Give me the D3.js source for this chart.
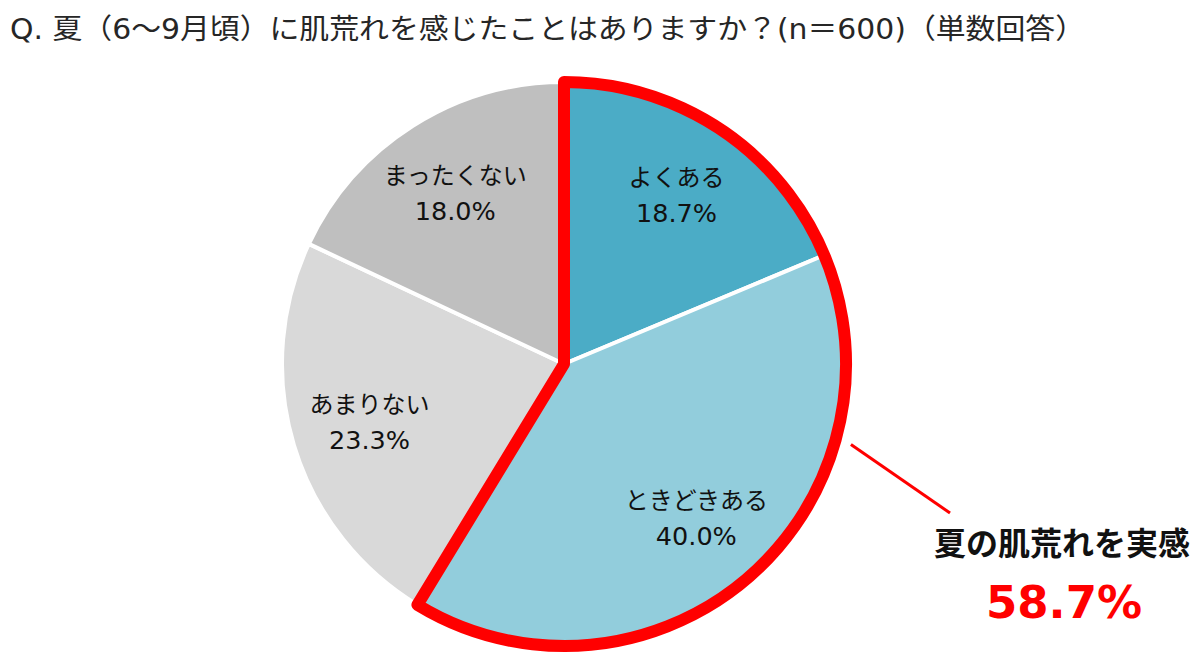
<!DOCTYPE html>
<html><head><meta charset="utf-8">
<script src="https://cdn.jsdelivr.net/npm/d3@7/dist/d3.min.js"></script>
<style>body{margin:0;background:#fff;} text{font-family:"DejaVu Sans","Noto Sans CJK JP",sans-serif;}</style>
</head><body>
<svg id="c" width="1200" height="656"></svg>
<script>
const titleText = "Q. 夏（6～9月頃）に肌荒れを感じたことはありますか？(n＝600)（単数回答）";
const categories = ["よくある", "ときどきある", "あまりない", "まったくない"];
const values = [18.7, 40.0, 23.3, 18.0];
const highlighted = [true, true, false, false];
const calloutLabel = "夏の肌荒れを実感";

const svg = d3.select("#c");
const cx = 564, cy = 364, R = 282;
const color = d3.scaleOrdinal().domain(categories).range(["#4BACC6", "#92CDDC", "#D9D9D9", "#BFBFBF"]);

svg.append("text").attr("x", 10).attr("y", 39).attr("font-size", 28).attr("fill", "#262626")
  .attr("textLength", 1075).attr("lengthAdjust", "spacingAndGlyphs").text(titleText);

const pie = d3.pie().sort(null).value(d => d.v);
const data = categories.map((c, i) => ({c, v: values[i], h: highlighted[i]}));
const arcs = pie(data);
const arc = d3.arc().innerRadius(0).outerRadius(R);
const labelArc = d3.arc().innerRadius(R * 0.72).outerRadius(R * 0.72);

const hArcs = arcs.filter(a => a.data.h);
const hStart = d3.min(hArcs, a => a.startAngle), hEnd = d3.max(hArcs, a => a.endAngle);
const hMid = (hStart + hEnd) / 2;

const g = svg.append("g").attr("transform", `translate(${cx},${cy})`);

g.selectAll("path.slice").data(arcs).join("path").attr("class", "slice")
  .attr("d", arc).attr("fill", d => color(d.data.c))
  .attr("stroke", "#fff").attr("stroke-width", 4).attr("stroke-linejoin", "round");

g.append("path")
  .attr("d", arc({startAngle: hStart, endAngle: hEnd}))
  .attr("fill", "none").attr("stroke", "#FF0000").attr("stroke-width", 12).attr("stroke-linejoin", "round");

arcs.forEach(a => {
  const [x, y] = labelArc.centroid(a);
  const t = g.append("text").attr("text-anchor", "middle").attr("fill", "#111");
  t.append("tspan").attr("x", x).attr("y", y - 9).attr("font-size", 24).text(a.data.c);
  t.append("tspan").attr("x", x).attr("y", y + 27).attr("font-size", 25.5).text(d3.format(".1f")(a.data.v) + "%");
});

// callout
const tot = d3.sum(hArcs, a => a.data.v);
const px = cx + (R + 16) * Math.sin(hMid), py = cy - (R + 16) * Math.cos(hMid);
svg.append("line").attr("x1", px).attr("y1", py).attr("x2", 950).attr("y2", 513)
  .attr("stroke", "#FF0000").attr("stroke-width", 3);
svg.append("text").attr("x", 1062).attr("y", 555).attr("text-anchor", "middle")
  .attr("font-size", 32).attr("font-weight", "bold").attr("fill", "#111").text(calloutLabel);
svg.append("text").attr("x", 1064).attr("y", 618).attr("text-anchor", "middle")
  .attr("font-size", 45).attr("font-weight", "bold").attr("fill", "#FF0000").text(d3.format(".1f")(tot) + "%");
</script>
</body></html>
